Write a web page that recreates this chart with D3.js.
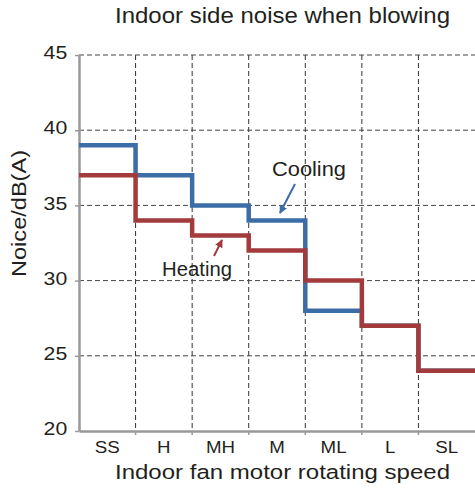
<!DOCTYPE html>
<html>
<head>
<meta charset="utf-8">
<script src="https://cdn.jsdelivr.net/npm/d3@7"></script>
<style>
  body { margin: 0; background: #fff; }
  text { font-family: "Liberation Sans", Arial, sans-serif; fill: #231f20; }
</style>
</head>
<body>
<div id="chart"></div>
<script>
  var width = 475;
  var height = 492;
  var svg = d3.select("#chart")
      .append("svg")
      .attr("width", width)
      .attr("height", height);

  var margin = {top: 55, right: 0, bottom: 61, left: 79};

  // data
  var speeds = ["SS", "H", "MH", "M", "ML", "L", "SL"];
  var cooling = [39, 37, 35, 34, 28, 27, 24];
  var heating = [37, 34, 33, 32, 30, 27, 24];
  var yTicks = [20, 25, 30, 35, 40, 45];

  var xScale = d3.scaleBand()
    .domain(speeds)
    .range([margin.left, width - margin.right])
    .padding(0);

  var yScale = d3.scaleLinear()
    .domain([20, 45])
    .range([height - margin.bottom, margin.top]);

  // grid
  var boundaries = speeds.slice(1).map(function(s) { return xScale(s); });
  svg.append("g").selectAll("line")
    .data(boundaries)
    .enter().append("line")
      .attr("x1", function(d) { return d; })
      .attr("x2", function(d) { return d; })
      .attr("y1", yScale(45))
      .attr("y2", yScale(20))
      .attr("stroke", "#333")
      .attr("stroke-width", 1)
      .attr("stroke-dasharray", "5,3");

  svg.append("g").selectAll("line")
    .data(yTicks.filter(function(d) { return d > 20; }))
    .enter().append("line")
      .attr("x1", margin.left)
      .attr("x2", width - margin.right)
      .attr("y1", function(d) { return yScale(d); })
      .attr("y2", function(d) { return yScale(d); })
      .attr("stroke", "#444")
      .attr("stroke-width", 1)
      .attr("stroke-dasharray", "5,3");

  // axes
  var yAxis = svg.append("g")
    .attr("transform", `translate(${margin.left},0)`)
    .call(d3.axisLeft(yScale).tickValues(yTicks).tickSize(4).tickSizeOuter(0));

  var xAxis = svg.append("g")
    .attr("transform", `translate(0,${height - margin.bottom})`)
    .call(d3.axisBottom(xScale).tickSize(0).tickPadding(10));

  svg.append("g").selectAll("line")
    .data(boundaries)
    .enter().append("line")
      .attr("x1", function(d) { return d; })
      .attr("x2", function(d) { return d; })
      .attr("y1", yScale(20))
      .attr("y2", yScale(20) + 4)
      .attr("stroke", "#999")
      .attr("stroke-width", 1.5);

  svg.selectAll(".domain").attr("stroke", "#999").attr("stroke-width", 2.5);
  yAxis.selectAll(".tick line").attr("stroke", "#999").attr("stroke-width", 1.5);
  svg.selectAll(".tick text")
    .style("font-family", "'Liberation Sans', Arial, sans-serif")
    .attr("fill", "#231f20");
  yAxis.selectAll(".tick text")
    .style("font-size", "18px")
    .attr("x", -10)
    .attr("dy", "0.2em")
    .attr("transform", "scale(1.18,1)");
  xAxis.selectAll(".tick text")
    .style("font-size", "17px")
    .attr("transform", "scale(1.1,1)");

  // step lines
  function stepPoints(vals) {
    var pts = [];
    vals.forEach(function(v, i) {
      var x0 = xScale(speeds[i]);
      pts.push([x0, yScale(v)]);
      pts.push([x0 + xScale.bandwidth(), yScale(v)]);
    });
    return pts;
  }
  var line = d3.line();

  svg.append("path")
    .attr("d", line(stepPoints(cooling)))
    .attr("fill", "none")
    .attr("stroke", "#3d6da6")
    .attr("stroke-width", 4.5);

  svg.append("path")
    .attr("d", line(stepPoints(heating)))
    .attr("fill", "none")
    .attr("stroke", "#a33a3c")
    .attr("stroke-width", 4.5);

  // annotations
  var defs = svg.append("defs");
  [["arrBlue", "#3d6da6"], ["arrRed", "#a33a3c"]].forEach(function(a) {
    defs.append("marker")
      .attr("id", a[0])
      .attr("viewBox", "0 0 10 10")
      .attr("refX", 9).attr("refY", 5)
      .attr("markerWidth", 4).attr("markerHeight", 4)
      .attr("orient", "auto")
      .append("path")
        .attr("d", "M0,0L10,5L0,10z")
        .attr("fill", a[1]);
  });

  svg.append("line")
    .attr("x1", 295).attr("y1", 184)
    .attr("x2", 280).attr("y2", 213)
    .attr("stroke", "#3d6da6").attr("stroke-width", 2)
    .attr("marker-end", "url(#arrBlue)");

  svg.append("line")
    .attr("x1", 214).attr("y1", 256)
    .attr("x2", 222).attr("y2", 240)
    .attr("stroke", "#a33a3c").attr("stroke-width", 2)
    .attr("marker-end", "url(#arrRed)");

  svg.append("text")
    .attr("x", 272).attr("y", 176)
    .style("font-size", "19.5px")
    .attr("textLength", 74)
    .attr("lengthAdjust", "spacingAndGlyphs")
    .text("Cooling");

  svg.append("text")
    .attr("x", 162).attr("y", 276)
    .style("font-size", "19.5px")
    .attr("textLength", 70)
    .attr("lengthAdjust", "spacingAndGlyphs")
    .text("Heating");

  // titles
  svg.append("text")
    .attr("x", 282.5).attr("y", 23)
    .attr("text-anchor", "middle")
    .style("font-size", "21.5px")
    .attr("textLength", 335)
    .attr("lengthAdjust", "spacingAndGlyphs")
    .text("Indoor side noise when blowing");

  svg.append("text")
    .attr("x", 282.5).attr("y", 479)
    .attr("text-anchor", "middle")
    .style("font-size", "20.5px")
    .attr("textLength", 335)
    .attr("lengthAdjust", "spacingAndGlyphs")
    .text("Indoor fan motor rotating speed");

  svg.append("text")
    .attr("transform", "rotate(-90)")
    .attr("x", -213.5)
    .attr("y", 26)
    .attr("text-anchor", "middle")
    .style("font-size", "20.5px")
    .attr("textLength", 127)
    .attr("lengthAdjust", "spacingAndGlyphs")
    .text("Noice/dB(A)");
</script>
</body>
</html>
